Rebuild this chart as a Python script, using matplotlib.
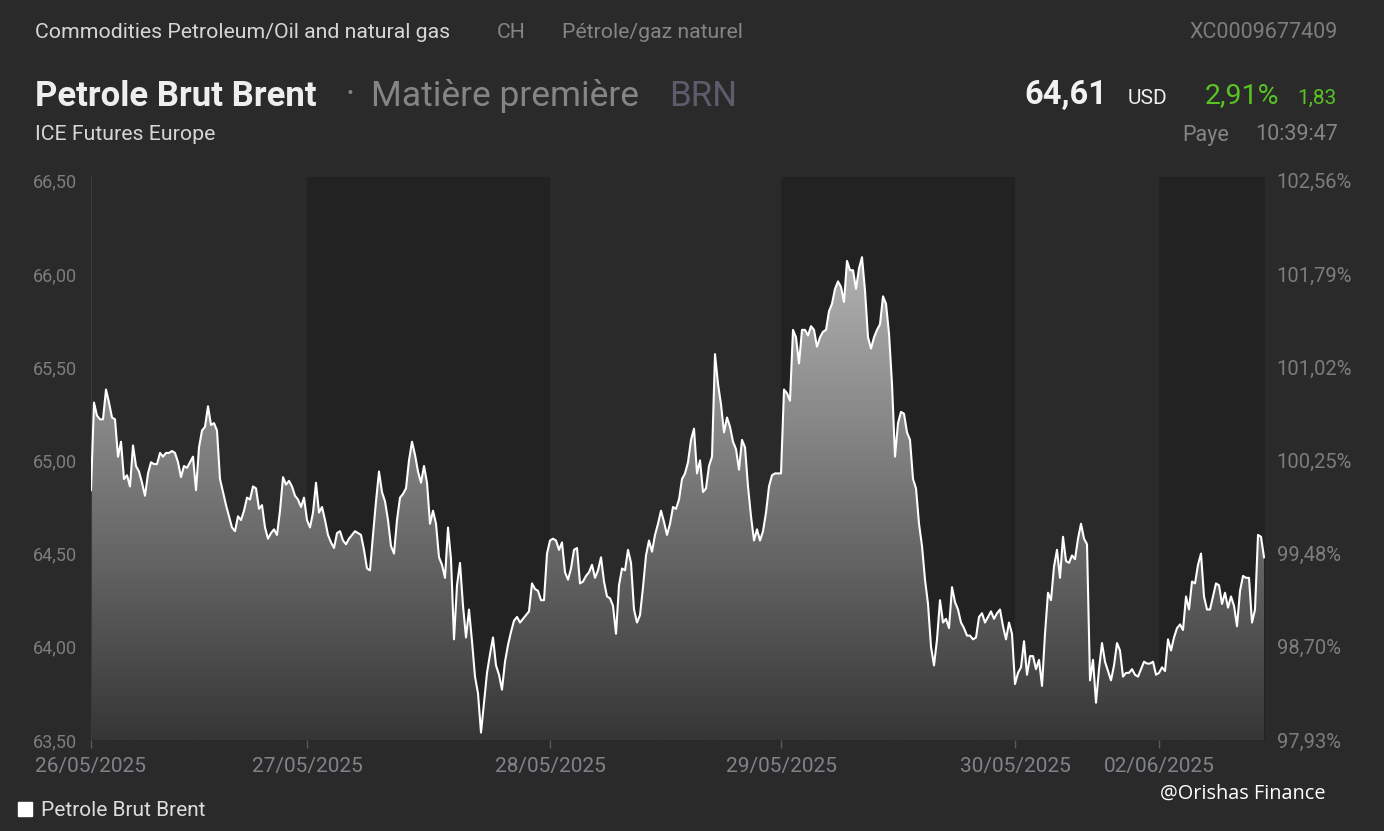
import numpy as np
import matplotlib
matplotlib.use("Agg")
import matplotlib.pyplot as plt
from matplotlib.colors import LinearSegmentedColormap

# intraday prices, one list per trading session
dates = ['26/05/2025', '27/05/2025', '28/05/2025', '29/05/2025', '30/05/2025', '02/06/2025']
s1 = [64.84, 65.31, 65.24, 65.22, 65.22, 65.38, 65.31, 65.23, 65.22, 65.02, 65.10, 64.90,
      64.92, 64.86, 65.08, 64.97, 64.94, 64.88, 64.81, 64.93, 64.99, 64.98, 64.98, 65.04,
      65.02, 65.04, 65.04, 65.05, 65.04, 64.99, 64.91, 64.97, 64.96, 64.99, 65.02, 64.84,
      65.07, 65.16, 65.18, 65.29, 65.19, 65.20, 65.16, 64.90, 64.83, 64.76, 64.70, 64.64,
      64.62, 64.70, 64.68, 64.73, 64.80, 64.79, 64.86, 64.85, 64.74, 64.76, 64.64, 64.58,
      64.61, 64.63, 64.60, 64.73, 64.91, 64.87, 64.89, 64.86, 64.81, 64.79, 64.75, 64.80]
s2 = [64.68, 64.64, 64.72, 64.88, 64.72, 64.75, 64.68, 64.60, 64.56, 64.53, 64.61, 64.62,
      64.57, 64.55, 64.58, 64.60, 64.62, 64.61, 64.60, 64.52, 64.42, 64.41, 64.60, 64.78,
      64.94, 64.83, 64.78, 64.68, 64.54, 64.50, 64.68, 64.80, 64.82, 64.85, 65.00, 65.10,
      65.03, 64.94, 64.88, 64.97, 64.88, 64.66, 64.73, 64.66, 64.48, 64.44, 64.37, 64.64,
      64.47, 64.04, 64.33, 64.45, 64.22, 64.05, 64.20, 64.03, 63.84, 63.75, 63.54, 63.70,
      63.86, 63.96, 64.05, 63.90, 63.85, 63.77, 63.92, 64.01, 64.08, 64.14, 64.16, 64.13,
      64.15, 64.17, 64.19, 64.34, 64.31, 64.30, 64.25, 64.25, 64.50]
s3 = [64.57, 64.58, 64.57, 64.52, 64.56, 64.40, 64.36, 64.42, 64.52, 64.53, 64.34, 64.35,
      64.38, 64.40, 64.44, 64.37, 64.41, 64.48, 64.35, 64.27, 64.26, 64.22, 64.07, 64.33,
      64.42, 64.41, 64.52, 64.45, 64.20, 64.13, 64.17, 64.32, 64.49, 64.57, 64.51, 64.60,
      64.66, 64.73, 64.67, 64.60, 64.66, 64.75, 64.74, 64.79, 64.90, 64.93, 64.99, 65.11,
      65.17, 64.93, 65.00, 64.83, 64.85, 64.97, 65.02, 65.57, 65.41, 65.30, 65.15, 65.23,
      65.18, 65.10, 65.06, 64.95, 65.11, 65.07, 64.86, 64.70, 64.57, 64.63, 64.57, 64.62,
      64.72, 64.86, 64.92, 64.93, 64.93]
s4 = [64.93, 65.38, 65.36, 65.32, 65.70, 65.66, 65.52, 65.70, 65.70, 65.67, 65.72, 65.70,
      65.61, 65.66, 65.69, 65.70, 65.80, 65.84, 65.92, 65.96, 65.93, 65.85, 66.07, 66.02,
      66.02, 65.92, 66.03, 66.09, 65.91, 65.66, 65.60, 65.66, 65.70, 65.73, 65.88, 65.84,
      65.68, 65.41, 65.02, 65.20, 65.26, 65.25, 65.15, 65.11, 64.90, 64.85, 64.66, 64.54,
      64.36, 64.23, 64.00, 63.90, 64.04, 64.25, 64.13, 64.15, 64.10, 64.32, 64.24, 64.20,
      64.13, 64.10, 64.06, 64.06, 64.04, 64.05, 64.16, 64.18, 64.13, 64.16, 64.19, 64.15,
      64.18, 64.20, 64.11, 64.04, 64.13, 64.07]
s5 = [63.80, 63.86, 63.89, 64.03, 63.85, 63.95, 63.95, 63.88, 63.93, 63.79, 64.07, 64.29,
      64.25, 64.43, 64.52, 64.37, 64.59, 64.46, 64.45, 64.49, 64.47, 64.58, 64.66, 64.58,
      64.55, 63.82, 63.93, 63.70, 63.88, 64.02, 63.92, 63.87, 63.82, 63.90, 64.02, 63.98,
      63.84, 63.86, 63.86, 63.88, 63.85, 63.84, 63.88, 63.92, 63.91, 63.91, 63.92, 63.85]
s6 = [63.86, 63.89, 63.87, 64.04, 63.98, 64.05, 64.10, 64.12, 64.09, 64.27, 64.20, 64.35,
      64.34, 64.44, 64.50, 64.27, 64.20, 64.20, 64.27, 64.34, 64.33, 64.23, 64.29, 64.21,
      64.27, 64.22, 64.11, 64.30, 64.38, 64.37, 64.37, 64.13, 64.20, 64.60, 64.59, 64.48]
sessions = [s1, s2, s3, s4, s5, s6]

y_ticks = [63.5, 64.0, 64.5, 65.0, 65.5, 66.0, 66.5]
ref_price = 64.84   # 100 % on the right-hand scale

BG = '#2a2a2a'
W, H = 1384, 831

def fx(x):
    return x / W

def fy(y):
    return 1 - y / H

price = np.concatenate(sessions)
x = np.arange(len(price))
starts = np.cumsum([0] + [len(s) for s in sessions])
ymin, ymax = 63.5, 66.52
xmax = len(price) - 0.67

plt.rcParams['font.family'] = ['Roboto', 'DejaVu Sans']
fig = plt.figure(figsize=(W / 100, H / 100), dpi=100, facecolor=BG)
ax = fig.add_axes([fx(91), fy(740), fx(1265) - fx(91), fy(177) - fy(740)])
ax.set_facecolor(BG)

# alternating session bands
for i in range(len(sessions)):
    if i % 2 == 1:
        ax.axvspan(starts[i], min(starts[i + 1], xmax), color='#222222', lw=0, zorder=0)

# gradient area under the curve
poly = ax.fill_between(x, price, ymin, color='none', lw=0)
cmap = LinearSegmentedColormap.from_list('g', ['#363636', '#c6c6c6'])
grad = np.linspace(0, 1, 256).reshape(-1, 1)
im = ax.imshow(grad, extent=[0, xmax, ymin, ymax], origin='lower', cmap=cmap,
               aspect='auto', zorder=1, interpolation='bilinear')
im.set_clip_path(poly.get_paths()[0], transform=ax.transData)
ax.plot(x, price, color='white', lw=1.5, zorder=3)

ax.set_xlim(0, xmax)
ax.set_ylim(ymin, ymax)
for s in ['top', 'right', 'bottom']:
    ax.spines[s].set_visible(False)
ax.spines['left'].set_color('#3c3c3c')

ax.set_yticks(y_ticks)
ax.set_yticklabels([f'{v:.2f}'.replace('.', ',') for v in y_ticks])
ax.tick_params(axis='y', length=0, pad=10, labelsize=13, labelcolor='#7d7d7d')
ax.set_xticks(starts[:-1])
ax.set_xticklabels(dates)
ax.tick_params(axis='x', length=6, width=1, color='#5a5a5a', pad=6,
               labelsize=15, labelcolor='#80848a')

sec = ax.secondary_yaxis('right', functions=(lambda v: v / ref_price * 100,
                                             lambda p: p * ref_price / 100))
pct = [v / ref_price * 100 for v in y_ticks]
sec.set_yticks(pct)
sec.set_yticklabels([f'{p:.2f}%'.replace('.', ',') for p in pct])
sec.tick_params(length=0, pad=8.5, labelsize=14.5, labelcolor='#7d7d7d')
sec.spines['right'].set_visible(False)

# header
fig.text(fx(35), fy(33), 'Commodities Petroleum/Oil and natural gas', color='#d6d6d6',
         fontsize=15.3, va='center')
fig.text(fx(497), fy(33), 'CH', color='#858585', fontsize=15.3, va='center')
fig.text(fx(562), fy(33), 'Pétrole/gaz naturel', color='#858585', fontsize=15.3, va='center')
fig.text(fx(1338), fy(33), 'XC0009677409', color='#7d7d7d', fontsize=15.5, va='center', ha='right')

fig.text(fx(35), fy(96), 'Petrole Brut Brent', color='#eeeeee', fontsize=25,
         fontweight='bold', va='center')
fig.text(fx(346), fy(96), '·', color='#858585', fontsize=25, va='center')
fig.text(fx(371), fy(96), 'Matière première', color='#858585', fontsize=25.5, va='center')
fig.text(fx(669), fy(96), 'BRN', color='#5c5c6c', fontsize=25, va='center')

fig.text(fx(1107), fy(95), '64,61', color='#f2f2f2', fontsize=23.5, fontweight='bold',
         va='center', ha='right')
fig.text(fx(1128), fy(98), 'USD', color='#eeeeee', fontsize=15, va='center')
fig.text(fx(1279), fy(96), '2,91%', color='#58c322', fontsize=20.5, va='center', ha='right')
fig.text(fx(1337), fy(98), '1,83', color='#58c322', fontsize=15, va='center', ha='right')

fig.text(fx(35), fy(135), 'ICE Futures Europe', color='#d6d6d6', fontsize=15.3, va='center')
fig.text(fx(1182), fy(135), 'Paye', color='#858585', fontsize=15.5, va='center')
fig.text(fx(1338), fy(135), '10:39:47', color='#858585', fontsize=15.5, va='center', ha='right')

# legend and watermark
fig.patches.append(plt.Rectangle((fx(18), fy(816)), fx(14), fy(802) - fy(816),
                                 transform=fig.transFigure, color='white', figure=fig))
fig.text(fx(41), fy(811), 'Petrole Brut Brent', color='#dddddd', fontsize=15, va='center')
fig.text(fx(1160), fy(794), '@Orishas Finance', color='white', fontsize=14.3, va='center',
         family='Open Sans')

fig.savefig('out.png', dpi=100, facecolor=BG)
